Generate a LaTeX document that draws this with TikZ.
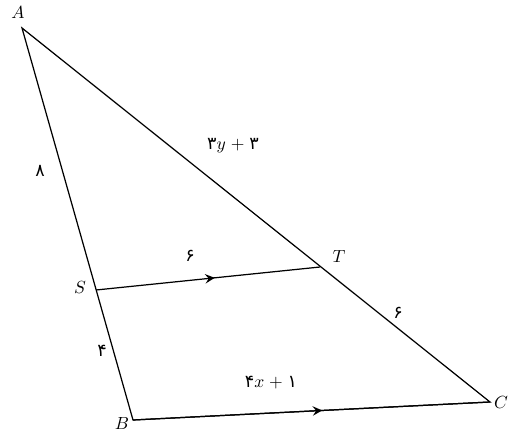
\documentclass[tikz,border=0pt]{standalone}
\usepackage{fontspec}
\newfontfamily\farsi[Script=Arabic]{DejaVu Sans}
\usepackage{tikz}
\usetikzlibrary{arrows, positioning, calc, decorations.markings}

\begin{document}
\begin{tikzpicture}[
    x=0.02cm, y=-0.02cm,
    side/.style={draw=black, line width=0.7pt},
    midarrow/.style={postaction={decorate}, decoration={markings, mark=at position 0.53 with {\arrow[scale=1.4]{stealth}}}},
    vlabel/.style={font=\normalsize, inner sep=1pt},
    seglabel/.style={font=\farsi, inner sep=1pt}
]
\useasboundingbox (0,0) rectangle (509,432);

\coordinate (A) at (22,28);
\coordinate (B) at (133,420);
\coordinate (C) at (490,402);
\coordinate (S) at (96,290);
\coordinate (T) at (320,267);

\draw[side] (A) -- (B) -- (C) -- cycle;
\draw[side, midarrow] (S) -- (T);
\draw[side, midarrow] (B) -- (C);

% vertex names
\node[vlabel] (labA) at (18,12) {$A$};
\node[vlabel] (labB) at (122,423) {$B$};
\node[vlabel] (labC) at (501,402) {$C$};
\node[vlabel] (labS) at (80,287) {$S$};
\node[vlabel] (labT) at (339,256) {$T$};

% lengths
\node[seglabel] (lenAS) at (40,171) {۸};
\node[seglabel] (lenSB) at (102,351) {۴};
\node[seglabel] (lenST) at (190,256) {۶};
\node[seglabel] (lenTC) at (398,313) {۶};
\node[vlabel] (lenAT) at (233,146) {{\farsi ۳}$y\;+\;${\farsi ۳}};
\node[vlabel] (lenBC) at (271,383) {{\farsi ۴}$x\;+\;${\farsi ۱}};

\end{tikzpicture}
\end{document}
